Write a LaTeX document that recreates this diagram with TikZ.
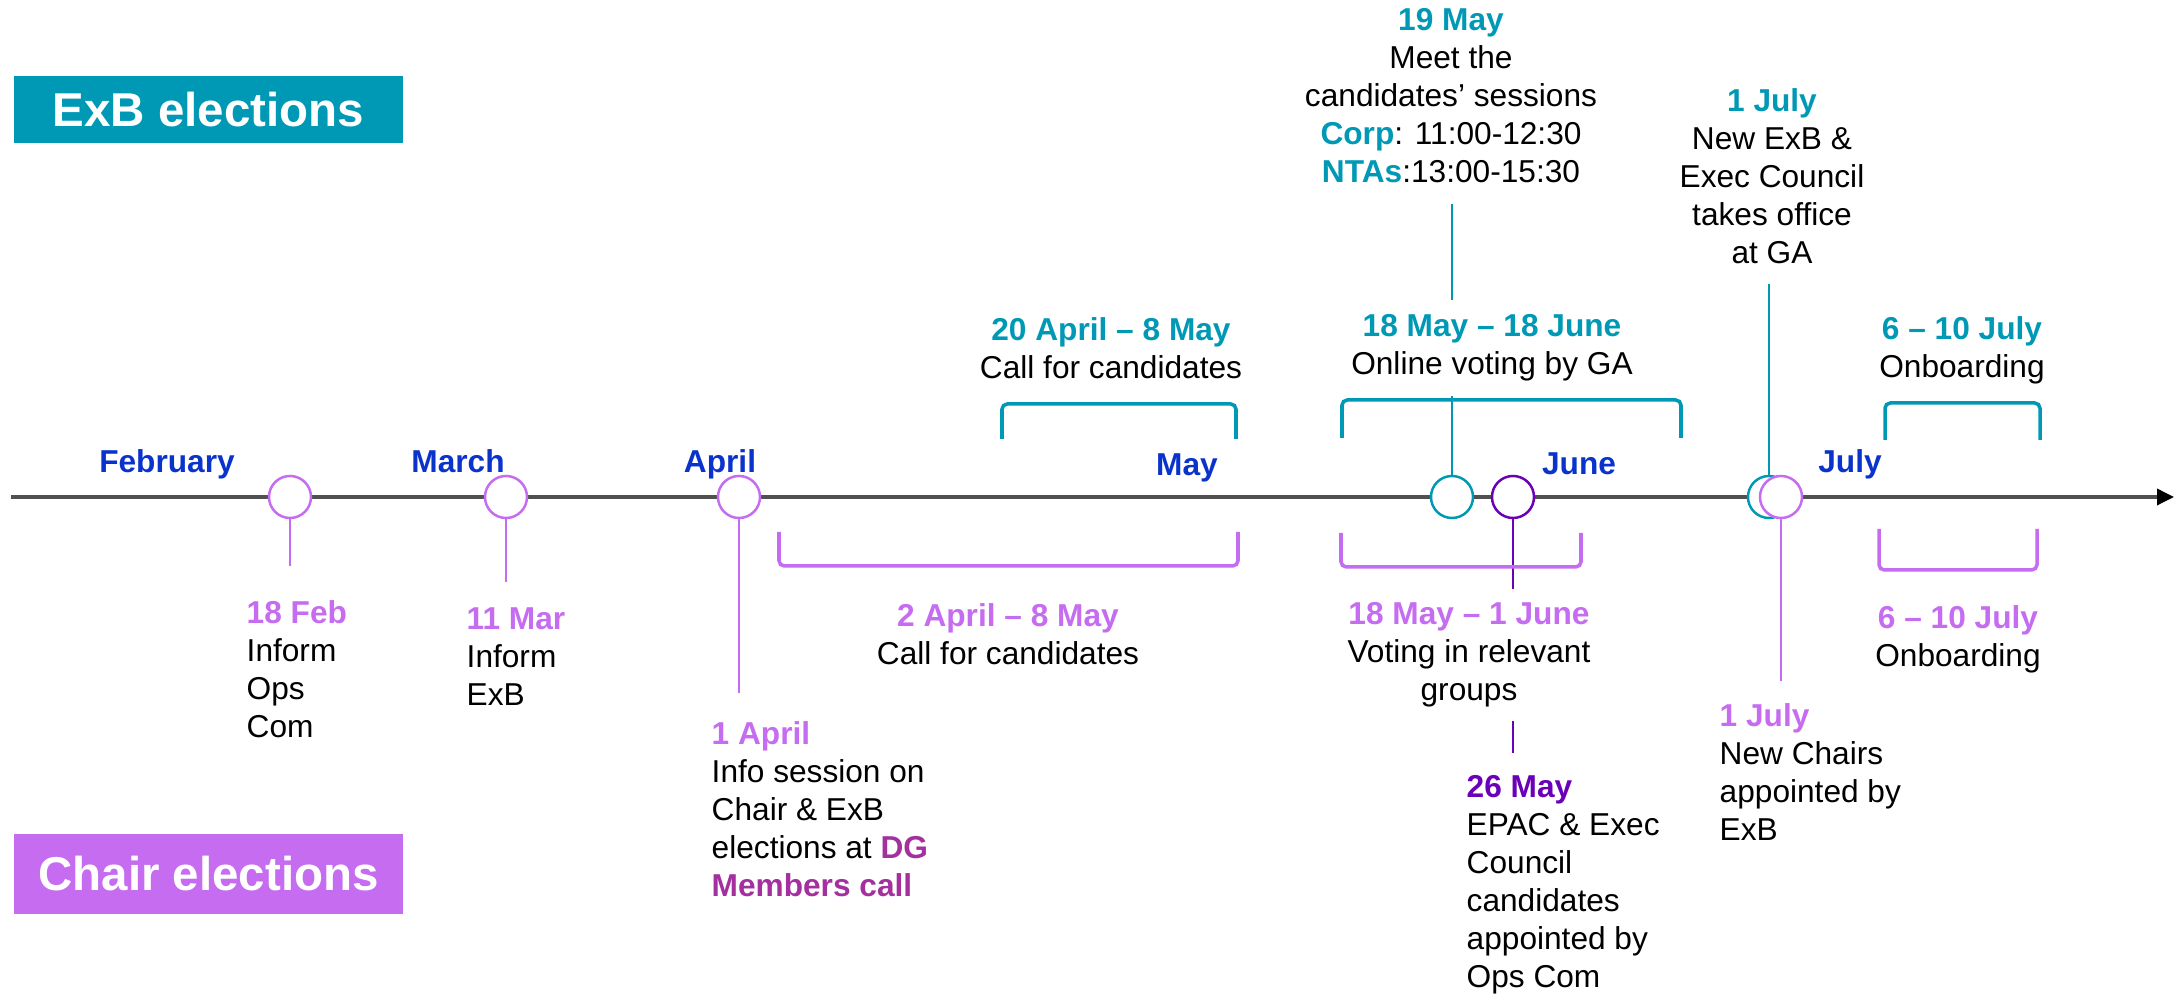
\documentclass[tikz,border=0pt]{standalone}
\usepackage{fontspec}
\setmainfont{Liberation Sans}
\usetikzlibrary{arrows.meta,backgrounds}
\definecolor{exbteal}{HTML}{0099B5}
\definecolor{chairlilac}{HTML}{C56CF0}
\definecolor{chairdark}{HTML}{6A00B8}
\definecolor{dgpink}{HTML}{A3309E}
\definecolor{monthblue}{HTML}{0A33CC}
\definecolor{axisgray}{HTML}{505050}
\newcommand\datel[2]{\textcolor{#1}{\bfseries #2}}

\begin{document}
\begin{tikzpicture}[x=.01cm, y=-.01cm,
        txt/.style={inner sep=0, font=\fontsize{9}{10.8}\selectfont},
        ev/.style={txt, align=left, anchor=north west},
        evc/.style={txt, align=center, anchor=north},
        month/.style={txt, font=\fontsize{9}{10.8}\selectfont\bfseries, text=monthblue, anchor=base},
        dot/.style={circle, draw=#1, fill=white, line width=.7pt, minimum size=.42cm, inner sep=0},
        stem/.style={#1, line width=.6pt},
        brace/.style={#1, line width=1pt, rounded corners=1.5pt},
        banner/.style={fill=#1, text=white, font=\fontsize{13.5}{16}\selectfont\bfseries, minimum width=3.89cm, inner sep=0}]
        \useasboundingbox (0,0) rectangle (2177,995);
        \node[banner=exbteal, minimum height=.67cm] (exb) at (208.5,109.5) {ExB elections};
        \node[banner=chairlilac, minimum height=.79cm] (chair) at (208.5,874) {Chair elections};
        \draw[axisgray, line width=1pt, -{Triangle[length=.17cm,width=.16cm,black]}] (11,497) -- (2174,497);
        \node[month] (feb) at (167,473) {February};
        \node[month] (mar) at (458,473) {March};
        \node[month] (apr) at (720,473) {April};
        \node[month] (may) at (1187,476) {May};
        \node[month] (jun) at (1579,475) {June};
        \node[month] (jul) at (1850,473) {July};
        \node[dot=chairlilac] (d18feb) at (290,497) {};
        \node[dot=chairlilac] (d11mar) at (506,497) {};
        \node[dot=chairlilac] (d1apr) at (739,497) {};
        \node[dot=exbteal] (d19may) at (1452,497) {};
        \node[dot=chairdark] (d26may) at (1513,497) {};
        \node[dot=exbteal] (d1julx) at (1769,497) {};
        \node[dot=chairlilac] (d1julc) at (1781,497) {};
        \node[ev] (t18feb) at (246,600) {\datel{chairlilac}{18 Feb}\\Inform\\Ops\\Com};
        \node[ev] (t11mar) at (466,607) {\datel{chairlilac}{11 Mar}\\Inform\\ExB};
        \node[ev] (t1apr) at (711,721) {\datel{chairlilac}{1 April}\\Info session on\\Chair \& ExB\\elections at \datel{dgpink}{DG}\\\datel{dgpink}{Members call}};
        \node[evc] (tcallc) at (1008,603) {\datel{chairlilac}{2 April -- 8 May}\\Call for candidates};
        \node[evc] (tcallx) at (1111,317) {\datel{exbteal}{20 April -- 8 May}\\Call for candidates};
        \node[evc] (tmeet) at (1451,8) {\datel{exbteal}{19 May}\\Meet the\\candidates’ sessions\\\datel{exbteal}{Corp}: 11:00-12:30\\\datel{exbteal}{NTAs}:13:00-15:30};
        \node[evc, fill=white, inner sep=.15cm] (tonline) at (1492,299) {\datel{exbteal}{18 May -- 18 June}\\Online voting by GA};
        \node[evc] (tnewexb) at (1772,88) {\datel{exbteal}{1 July}\\New ExB \&\\Exec Council\\takes office\\at GA};
        \node[evc] (tonbx) at (1962,316) {\datel{exbteal}{6 -- 10 July}\\Onboarding};
        \node[evc, fill=white, inner sep=.14cm] (tvoting) at (1469,588) {\datel{chairlilac}{18 May -- 1 June}\\Voting in relevant\\groups};
        \node[ev] (t26may) at (1466,775) {\datel{chairdark}{26 May}\\EPAC \& Exec\\Council\\candidates\\appointed by\\Ops Com};
        \node[ev] (tnewch) at (1719,703) {\datel{chairlilac}{1 July}\\New Chairs\\appointed by\\ExB};
        \node[evc] (tonbc) at (1958,605) {\datel{chairlilac}{6 -- 10 July}\\Onboarding};
        \draw[brace=chairlilac] (779,532) |- (1238,566) -- (1238,532);
        \draw[brace=exbteal] (1002,439) |- (1236,404) -- (1236,439);
        \draw[brace=exbteal] (1342,438) |- (1681,400) -- (1681,438);
        \draw[brace=chairlilac] (1341,533) |- (1581,567) -- (1581,533);
        \draw[brace=exbteal] (1885,440) |- (2040,403) -- (2040,440);
        \draw[brace=chairlilac] (1879,529) |- (2037,570) -- (2037,529);
        \begin{scope}[on background layer]
        \draw[stem=chairlilac, shorten >=.34cm] (d18feb.south) -- (d18feb.south |- t18feb.north);
        \draw[stem=chairlilac, shorten >=.25cm] (d11mar.south) -- (d11mar.south |- t11mar.north);
        \draw[stem=chairlilac, shorten >=.28cm] (d1apr.south) -- (d1apr.south |- t1apr.north);
        \draw[stem=exbteal, shorten >=.2cm] (d19may.north) -- (d19may.north |- tmeet.south);
        \draw[stem=chairdark, shorten >=.22cm] (d26may.south) -- (d26may.south |- t26may.north);
        \draw[stem=exbteal, shorten >=.19cm] (d1julx.north) -- (d1julx.north |- tnewexb.south);
        \draw[stem=chairlilac, shorten >=.22cm] (d1julc.south) -- (d1julc.south |- tnewch.north);
        \end{scope}
    \end{tikzpicture}
\end{document}
